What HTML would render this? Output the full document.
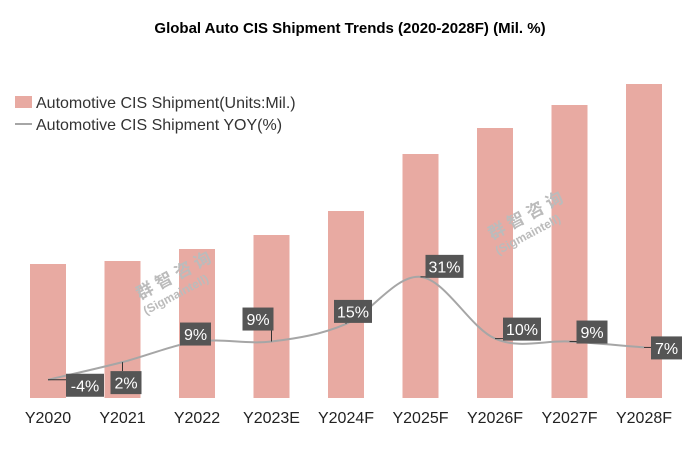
<!DOCTYPE html>
<html><head><meta charset="utf-8"><style>
body{margin:0;background:#fff;}
svg{display:block;font-family:"Liberation Sans","Noto Sans CJK SC",sans-serif;}
</style></head><body>
<svg id="c" width="700" height="451">
<text x="350" y="33" text-anchor="middle" font-size="15" font-weight="bold" fill="#000">Global Auto CIS Shipment Trends (2020-2028F) (Mil. %)</text>
<g>
<rect x="15" y="96" width="17" height="12" fill="#e8aaa2"/>
<text x="36" y="108" font-size="16" fill="#333">Automotive CIS Shipment(Units:Mil.)</text>
<line x1="15" y1="124" x2="32" y2="124" stroke="#a6a6a6" stroke-width="2"/>
<text x="36" y="130" font-size="16" fill="#333">Automotive CIS Shipment YOY(%)</text>
</g>
<g id="bars"></g><g id="line"></g><g id="labels"></g><g id="xaxis"></g>
<g fill="#bbb" font-weight="bold">
<text transform="translate(140,300) rotate(-28)" font-size="17">群 智 咨 询</text>
<text transform="translate(146,315) rotate(-28)" font-size="12">(Sigmaintell)</text>
<text transform="translate(492,240) rotate(-28)" font-size="17">群 智 咨 询</text>
<text transform="translate(498,255) rotate(-28)" font-size="12">(Sigmaintell)</text>
</g>
</svg>
<script>
const categories=["Y2020","Y2021","Y2022","Y2023E","Y2024F","Y2025F","Y2026F","Y2027F","Y2028F"];
const shipments=[134,137,149,163,187,244,270,293,314];
const yoy=[-4,2,9,9,15,31,10,9,7];
const yoyLabels=["-4%","2%","9%","9%","15%","31%","10%","9%","7%"];
const labelOffsets=[[18,-6],[-12,9],[-17,-19],[-29,-34],[-12,-24],[5,-22],[8,-21],[7,-21],[7,-11]];
const NS="http://www.w3.org/2000/svg";
const x=i=>48+i*74.5;
const base=398;
const yBar=v=>base-v*1.0;
const yLine=v=>368-v*2.94;
function el(t,a,p){const e=document.createElementNS(NS,t);for(const k in a)e.setAttribute(k,a[k]);document.getElementById(p).appendChild(e);return e;}
shipments.forEach((v,i)=>{
 const r=el("rect",{x:x(i)-18,y:yBar(v),width:36,height:base-yBar(v),fill:"#e8aaa2"},"bars");
 
 
});
categories.forEach((c,i)=>{
 const t=el("text",{x:x(i),y:423,"text-anchor":"middle","font-size":16,fill:"#222"},"xaxis");t.textContent=c;
 
 
});
const pts=yoy.map((v,i)=>[x(i),yLine(v)]);
let d="M"+pts[0][0]+","+pts[0][1];
for(let i=0;i<pts.length-1;i++){
 const p0=pts[i-1]||pts[i],p1=pts[i],p2=pts[i+1],p3=pts[i+2]||p2;
 const c1=[p1[0]+(p2[0]-p0[0])/6,p1[1]+(p2[1]-p0[1])/6],c2=[p2[0]-(p3[0]-p1[0])/6,p2[1]-(p3[1]-p1[1])/6];
 d+=` C${c1[0]},${c1[1]} ${c2[0]},${c2[1]} ${p2[0]},${p2[1]}`;
}
const ln=el("path",{d:d,fill:"none",stroke:"#a6a6a6","stroke-width":2},"line");


yoy.forEach((v,i)=>{
 const px=x(i),py=yLine(v);
 const w=yoyLabels[i].length>2?38:31,h=23;
 const bx=px+labelOffsets[i][0],by=py+labelOffsets[i][1];
 const cx=Math.max(bx,Math.min(px,bx+w));
 const lk=el("line",{x1:px,y1:py,x2:cx,y2:Math.max(by,Math.min(py,by+h)),stroke:"#333","stroke-width":1},"labels");
 
 
 const r=el("rect",{x:bx,y:by,width:w,height:h,fill:"#555"},"labels");
 
 
 const t=el("text",{x:bx+w/2,y:by+17.5,"text-anchor":"middle","font-size":16,fill:"#fff"},"labels");
 t.textContent=yoyLabels[i];
 
 
});
</script>
</body></html>
